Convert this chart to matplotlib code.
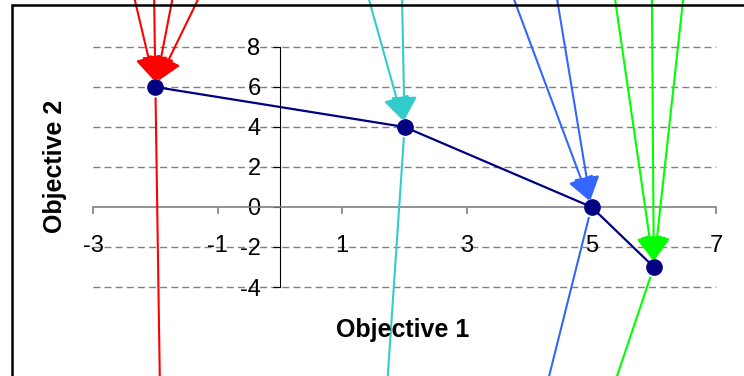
import matplotlib
matplotlib.use("Agg")
import matplotlib.pyplot as plt
from matplotlib.patches import Rectangle

plt.rcParams['font.family'] = ['Liberation Sans', 'DejaVu Sans']
plt.rcParams['axes.unicode_minus'] = False

# trade-off front
front_x = [-2, 2, 5, 6]
front_y = [6, 4, 0, -3]

# incoming arrows: (start x, start y, target index)
arrows_in = [
    (-2.33, 10.35, 0), (-2.02, 10.35, 0), (-1.73, 10.35, 0), (-1.32, 10.35, 0),
    (1.43, 10.35, 1), (1.96, 10.35, 1),
    (3.76, 10.35, 2), (4.45, 10.35, 2),
    (5.38, 10.35, 3), (5.97, 10.35, 3), (6.47, 10.35, 3),
]
# outgoing lines: (end x, end y, source index)
lines_out = [(-1.93, -8.45, 0), (1.73, -8.45, 1), (4.32, -8.45, 2), (5.41, -8.45, 3)]
point_colors = ['#FF0000', '#33CCCC', '#3366FF', '#00FF00']

xticks = [-3, -1, 1, 3, 5, 7]
yticks = [-4, -2, 0, 2, 4, 6, 8]

fig = plt.figure(figsize=(7.44, 3.76), dpi=100)
ax = fig.add_axes([0, 0, 1, 1])
ax.set_xlim(-280 / 62.3, 464 / 62.3)
ax.set_ylim(-169 / 20, 207 / 20)
ax.patch.set_alpha(0)

for s in ['top', 'right']:
    ax.spines[s].set_visible(False)
ax.spines['left'].set_position(('data', 0))
ax.spines['bottom'].set_position(('data', 0))
ax.spines['left'].set_bounds(-4, 8)
ax.spines['bottom'].set_bounds(-3, 7)
ax.spines['left'].set_linewidth(0.8)
ax.spines['left'].set_color('black')
ax.spines['bottom'].set_linewidth(1.2)
ax.spines['bottom'].set_color('#808080')

ax.set_xticks(xticks)
ax.set_yticks(yticks)
ax.tick_params(axis='x', direction='out', length=5, width=1.2, color='#808080',
               pad=15, labelsize=17)
ax.tick_params(axis='y', direction='out', length=5, width=0.8, color='black',
               pad=9, labelsize=17)

# dashed horizontal gridlines
ax.hlines([v for v in yticks if v != 0], -3, 7, colors='#808080',
          linestyles=(0, (5, 3)), linewidth=1, zorder=1)

for sx, sy, i in arrows_in:
    ax.annotate('', xy=(front_x[i], front_y[i]), xytext=(sx, sy),
                arrowprops=dict(arrowstyle='-|>,head_length=0.8,head_width=0.45',
                                color=point_colors[i], lw=1.5, mutation_scale=18,
                                shrinkA=0, shrinkB=5), zorder=3)
for ex, ey, i in lines_out:
    ax.annotate('', xy=(ex, ey), xytext=(front_x[i], front_y[i]),
                arrowprops=dict(arrowstyle='-', color=point_colors[i], lw=1.5,
                                shrinkA=8, shrinkB=0), zorder=3)

ax.plot(front_x, front_y, color='#000080', lw=1.6, marker='o', markersize=11,
        zorder=4)

fig.text(403 / 744, 1 - 330 / 376, 'Objective 1', ha='center', va='center',
         fontsize=18, fontweight='bold')
fig.text(55 / 744, 1 - 166 / 376, 'Objective 2', ha='center', va='center',
         rotation=90, fontsize=18, fontweight='bold')

# chart area border
fig.patches.append(Rectangle((12 / 744, -0.2), 1.2, 1.2 - 5 / 376, fill=False,
                             lw=1.8, edgecolor='black', transform=fig.transFigure))

fig.savefig('out.png', dpi=100)
